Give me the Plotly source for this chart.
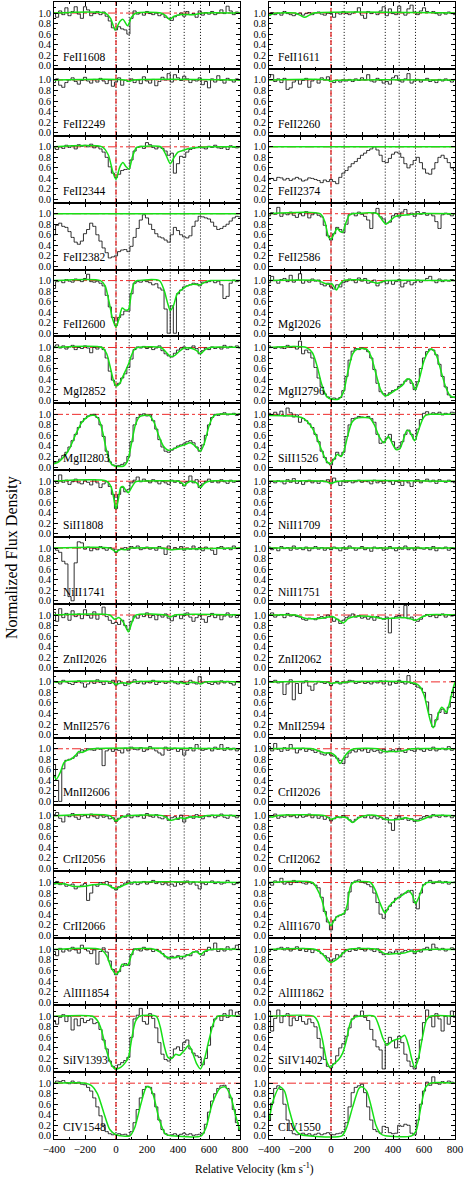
import plotly.graph_objects as go
from plotly.subplots import make_subplots

# velocity bins (km/s) shared by all spectra
VELOCITY = [-400, -380, -360, -340, -320, -300, -280, -260, -240, -220,
            -200, -180, -160, -140, -120, -100, -80, -60, -40, -20,
            0, 20, 40, 60, 80, 100, 120, 140, 160, 180,
            200, 220, 240, 260, 280, 300, 320, 340, 360, 380,
            400, 420, 440, 460, 480, 500, 520, 540, 560, 580,
            600, 620, 640, 660, 680, 700, 720, 740, 760, 780, 800]

COMPONENTS = [85, 350, 440, 545]

# spectra: normalized flux in percent, one value per velocity bin
# fits: (velocity, percent flux) nodes of the model profile
S_FEII1608 = [100, 92, 104, 97, 110, 95, 103, 112, 98, 90,
              112, 106, 95, 99, 103, 97, 102, 94, 85, 72,
              68, 74, 70, 68, 60, 90, 104, 98, 101, 96,
              103, 99, 97, 100, 95, 98, 92, 90, 86, 93,
              96, 100, 94, 103, 97, 99, 92, 104, 96, 101,
              98, 103, 97, 100, 106, 99, 113, 104, 97, 102, 100]
F_FEII1608 = [(-400, 100), (-70, 100), (-35, 90), (-5, 68), (25, 84), (45, 88), (75, 76), (100, 92),
              (130, 100), (290, 100), (320, 95), (345, 88), (375, 94), (410, 97), (500, 97), (560, 100), (800, 100)]

S_FEII1611 = [96, 101, 97, 100, 96, 103, 99, 97, 95, 98,
              100, 96, 99, 101, 97, 100, 102, 98, 96, 100,
              99, 92, 101, 98, 103, 99, 97, 100, 102, 110,
              96, 90, 103, 99, 101, 97, 104, 112, 95, 108,
              99, 97, 113, 101, 96, 108, 115, 102, 97, 104,
              110, 103, 101, 103, 99, 96, 101, 98, 102, 99, 97]
F_FEII1611 = [(-400, 95), (-370, 99), (-230, 100), (-200, 96), (-170, 92), (-140, 96), (-110, 100), (800, 100)]

S_FEII2249 = [95, 102, 90, 86, 95, 100, 104, 97, 92, 99,
              105, 98, 94, 101, 96, 103, 98, 93, 100, 88,
              96, 104, 90, 99, 97, 102, 95, 100, 93, 106,
              98, 94, 101, 89, 97, 105, 100, 112, 96, 110,
              104, 99, 107, 102, 95, 100, 98, 104, 91, 97,
              85, 102, 96, 108, 99, 94, 103, 100, 96, 102, 99]
F_FEII2249 = [(-400, 100), (60, 100), (85, 97), (110, 100), (800, 100)]

S_FEII2260 = [105, 110, 97, 102, 95, 103, 82, 85, 96, 100,
              92, 99, 103, 86, 98, 101, 94, 104, 100, 106,
              97, 95, 99, 96, 100, 98, 101, 97, 102, 99,
              104, 100, 110, 98, 96, 103, 99, 94, 97, 92,
              104, 108, 99, 96, 102, 112, 94, 98, 101, 96,
              100, 103, 97, 99, 95, 101, 98, 102, 99, 96, 101]
F_FEII2260 = [(-400, 100), (-20, 100), (0, 97), (20, 99), (800, 100)]

S_FEII2344 = [98, 95, 100, 97, 103, 99, 102, 96, 104, 101,
              103, 100, 105, 98, 101, 96, 90, 80, 62, 50,
              42, 48, 55, 57, 58, 75, 92, 99, 101, 97,
              108, 104, 99, 96, 100, 97, 92, 84, 88, 50,
              68, 82, 80, 90, 95, 97, 99, 100, 98, 96,
              101, 99, 103, 98, 97, 100, 95, 102, 99, 98, 100]
F_FEII2344 = [(-400, 100), (-90, 100), (-50, 85), (-20, 52), (0, 38), (25, 62), (45, 70), (65, 62), (85, 58),
              (105, 80), (130, 98), (150, 100), (290, 100), (320, 86), (350, 68), (375, 80), (400, 90),
              (430, 93), (470, 97), (545, 99), (600, 100), (800, 100)]

S_FEII2374 = [38, 40, 36, 42, 41, 37, 40, 36, 39, 42,
              39, 35, 37, 41, 40, 38, 36, 32, 37, 34,
              38, 34, 30, 42, 50, 55, 62, 68, 72, 78,
              84, 88, 93, 96, 100, 94, 84, 72, 70, 78,
              86, 90, 88, 80, 68, 60, 66, 74, 80, 70,
              58, 50, 48, 58, 70, 80, 84, 78, 70, 60, 55]
F_FEII2374 = [(-400, 100), (800, 100)]

S_FEII2382 = [60, 78, 82, 76, 74, 66, 55, 46, 42, 48,
              62, 70, 82, 76, 60, 48, 35, 26, 16, 18,
              20, 28, 31, 32, 28, 38, 55, 72, 88, 98,
              92, 80, 70, 62, 56, 54, 50, 46, 60, 74,
              68, 60, 56, 54, 58, 76, 86, 95, 94, 92,
              90, 84, 76, 70, 72, 76, 80, 86, 92, 95, 94]
F_FEII2382 = [(-400, 100), (800, 100)]

S_FEII2586 = [96, 102, 99, 112, 95, 100, 98, 103, 97, 93,
              100, 96, 104, 92, 98, 101, 97, 94, 78, 58,
              50, 62, 74, 70, 64, 80, 98, 101, 96, 103,
              99, 95, 88, 72, 102, 110, 94, 90, 82, 84,
              96, 100, 94, 103, 108, 98, 101, 95, 104, 99,
              102, 97, 100, 96, 85, 72, 98, 101, 99, 96, 100]
F_FEII2586 = [(-400, 100), (-70, 100), (-40, 85), (-15, 55), (0, 52), (20, 62), (40, 72), (60, 66), (75, 65),
              (95, 82), (120, 98), (140, 100), (300, 100), (330, 88), (355, 80), (380, 86), (410, 94),
              (450, 97), (500, 98), (560, 100), (800, 100)]

S_FEII2600 = [85, 98, 100, 96, 102, 99, 97, 103, 101, 98,
              104, 112, 98, 97, 99, 95, 90, 72, 50, 30,
              15, 30, 35, 42, 42, 75, 95, 98, 97, 100,
              98, 96, 92, 94, 86, 82, 46, 0, 52, 0,
              75, 82, 88, 90, 92, 95, 94, 90, 97, 96,
              98, 100, 96, 99, 92, 66, 70, 95, 101, 98, 100]
F_FEII2600 = [(-400, 100), (-100, 100), (-70, 90), (-45, 60), (-20, 25), (0, 12), (20, 28), (40, 48), (60, 44),
              (80, 45), (100, 78), (120, 97), (140, 100), (280, 100), (310, 82), (335, 55), (350, 43),
              (370, 52), (395, 75), (420, 82), (460, 90), (500, 93), (545, 92), (580, 98), (610, 100), (800, 100)]

S_MGI2026 = [96, 108, 100, 95, 102, 104, 98, 110, 97, 101,
             113, 95, 100, 97, 103, 99, 101, 93, 90, 95,
             88, 84, 92, 88, 96, 98, 103, 100, 96, 105,
             99, 104, 95, 97, 101, 90, 96, 98, 94, 100,
             93, 98, 102, 88, 95, 99, 92, 96, 101, 97,
             100, 104, 108, 100, 96, 103, 98, 101, 99, 102, 100]
F_MGI2026 = [(-400, 100), (-90, 100), (-50, 96), (-20, 93), (5, 94), (20, 88), (35, 82), (55, 92), (80, 100),
             (240, 100), (270, 97), (300, 95), (330, 98), (360, 100), (800, 100)]

S_MGI2852 = [102, 105, 99, 103, 97, 101, 104, 96, 100, 98,
             103, 99, 90, 100, 97, 101, 96, 80, 55, 38,
             28, 32, 42, 50, 62, 78, 96, 101, 99, 102,
             98, 101, 96, 99, 103, 94, 88, 84, 82, 89,
             95, 99, 101, 96, 100, 103, 98, 88, 94, 99,
             96, 101, 98, 100, 97, 104, 99, 102, 100, 103, 99]
F_MGI2852 = [(-400, 100), (-90, 100), (-60, 88), (-35, 60), (-15, 36), (0, 27), (20, 30), (40, 42), (60, 55),
             (80, 68), (100, 85), (120, 97), (140, 100), (290, 100), (320, 92), (350, 83), (375, 84),
             (410, 93), (440, 99), (490, 98), (520, 94), (545, 88), (575, 96), (610, 100), (800, 100)]

S_MGII2796 = [103, 100, 98, 101, 99, 98, 104, 100, 102, 97,
              112, 88, 95, 90, 80, 62, 42, 25, 12, 6,
              3, 4, 2, 5, 18, 45, 76, 93, 98, 96,
              99, 97, 92, 80, 58, 32, 16, 12, 9, 14,
              18, 20, 26, 30, 36, 40, 32, 20, 35, 60,
              80, 92, 97, 95, 86, 68, 45, 25, 10, 5, 6]
F_MGII2796 = [(-400, 100), (-160, 100), (-120, 90), (-90, 65), (-60, 30), (-30, 8), (0, 2), (50, 2), (80, 15),
              (110, 55), (140, 88), (170, 97), (230, 97), (260, 82), (290, 50), (320, 20), (350, 8),
              (380, 12), (420, 20), (460, 28), (490, 40), (515, 38), (545, 20), (570, 40), (600, 75),
              (630, 93), (650, 97), (680, 85), (710, 55), (740, 25), (770, 8), (800, 5)]

S_MGII2803 = [8, 10, 15, 22, 28, 38, 50, 62, 75, 86,
              92, 97, 99, 100, 94, 80, 58, 30, 10, 4,
              2, 3, 5, 8, 20, 48, 80, 94, 99, 101,
              97, 99, 88, 72, 52, 38, 30, 28, 32, 36,
              40, 42, 44, 48, 50, 46, 38, 30, 42, 60,
              80, 94, 100, 98, 101, 103, 99, 100, 102, 98, 101]
F_MGII2803 = [(-400, 6), (-370, 10), (-340, 18), (-300, 35), (-260, 62), (-220, 85), (-180, 96), (-140, 98),
              (-110, 90), (-85, 65), (-60, 30), (-35, 8), (-10, 2), (50, 2), (75, 12), (100, 45), (125, 80),
              (150, 95), (175, 98), (215, 98), (245, 85), (275, 60), (305, 40), (335, 32), (360, 33),
              (400, 38), (440, 42), (480, 46), (510, 40), (545, 30), (570, 45), (600, 78), (625, 95),
              (650, 100), (800, 100)]

S_SIII1526 = [102, 98, 104, 100, 106, 97, 112, 103, 95, 99,
              85, 92, 88, 82, 75, 62, 48, 30, 18, 8,
              4, 15, 28, 22, 28, 58, 80, 92, 93, 96,
              95, 94, 96, 92, 85, 62, 45, 48, 55, 62,
              48, 36, 38, 48, 62, 70, 62, 52, 72, 90,
              102, 105, 100, 103, 101, 104, 99, 102, 100, 104, 103]
F_SIII1526 = [(-400, 98), (-250, 97), (-180, 93), (-140, 82), (-100, 62), (-60, 32), (-30, 12), (-5, 6),
              (20, 15), (40, 24), (65, 20), (85, 32), (110, 62), (135, 85), (160, 92), (200, 94), (250, 93),
              (280, 80), (310, 58), (340, 46), (370, 58), (395, 45), (420, 33), (445, 35), (470, 55),
              (490, 70), (510, 66), (540, 50), (565, 70), (590, 90), (610, 98), (640, 100), (800, 100)]

S_SIII1808 = [100, 96, 112, 98, 102, 94, 99, 104, 97, 95,
              101, 98, 93, 103, 97, 88, 95, 99, 90, 75,
              48, 75, 88, 80, 84, 97, 102, 108, 99, 104,
              101, 97, 103, 99, 95, 100, 97, 94, 102, 98,
              101, 96, 91, 99, 110, 97, 103, 88, 95, 100,
              104, 98, 101, 97, 103, 99, 96, 102, 98, 100, 101]
F_SIII1808 = [(-400, 100), (-60, 100), (-30, 88), (-10, 60), (0, 48), (15, 65), (30, 88), (45, 90), (65, 82),
              (80, 78), (100, 88), (125, 99), (145, 100), (400, 100), (425, 97), (440, 92), (460, 97),
              (480, 100), (520, 97), (545, 88), (570, 96), (600, 100), (800, 100)]

S_NIII1709 = [96, 100, 97, 101, 99, 95, 103, 98, 105, 96,
              100, 94, 99, 102, 97, 100, 96, 101, 99, 103,
              95, 106, 99, 92, 100, 98, 101, 97, 99, 102,
              98, 101, 99, 95, 102, 97, 100, 96, 101, 99,
              94, 100, 98, 92, 101, 97, 90, 99, 103, 97,
              101, 104, 99, 102, 96, 103, 100, 98, 102, 99, 97]
F_NIII1709 = [(-400, 100), (-40, 100), (0, 96), (40, 100), (800, 100)]

S_NIII1741 = [100, 96, 92, 75, 70, 8, 0, 72, 112, 110,
              98, 102, 95, 100, 97, 103, 99, 96, 101, 98,
              92, 97, 99, 101, 96, 103, 100, 104, 97, 99,
              102, 98, 100, 96, 103, 99, 88, 104, 97, 101,
              99, 103, 96, 100, 98, 104, 97, 101, 95, 102,
              99, 96, 88, 101, 103, 98, 100, 97, 104, 99, 101]
F_NIII1741 = [(-400, 100), (-40, 100), (0, 93), (30, 98), (60, 97), (100, 100), (300, 100), (350, 97),
              (400, 98), (800, 100)]

S_NIII1751 = [102, 97, 100, 95, 103, 99, 101, 96, 104, 98,
              100, 97, 102, 95, 99, 103, 98, 101, 96, 100,
              97, 102, 99, 95, 101, 98, 104, 100, 96, 99,
              103, 97, 100, 94, 102, 99, 101, 96, 98, 103,
              99, 95, 101, 98, 104, 97, 100, 96, 102, 99,
              98, 101, 97, 103, 95, 100, 99, 102, 96, 101, 98]
F_NIII1751 = [(-400, 100), (800, 100)]

S_ZNII2026 = [105, 88, 112, 95, 103, 90, 108, 97, 102, 93,
              110, 99, 94, 106, 92, 101, 115, 97, 90, 84,
              86, 82, 90, 80, 72, 88, 98, 94, 101, 97,
              104, 95, 99, 91, 100, 96, 102, 94, 89, 97,
              101, 93, 99, 104, 96, 88, 95, 100, 92, 86,
              97, 103, 95, 100, 91, 98, 104, 96, 101, 95, 100]
F_ZNII2026 = [(-400, 100), (-40, 100), (-10, 92), (20, 95), (50, 85), (80, 68), (105, 88), (130, 100),
              (320, 100), (350, 96), (380, 100), (800, 100)]

S_ZNII2062 = [100, 104, 96, 99, 101, 95, 103, 98, 100, 97,
              96, 92, 90, 94, 93, 91, 95, 97, 94, 100,
              96, 88, 92, 84, 90, 95, 98, 102, 96, 99,
              94, 96, 92, 95, 90, 97, 94, 92, 96, 66,
              94, 97, 99, 95, 118, 93, 96, 90, 88, 92,
              98, 101, 97, 100, 95, 99, 102, 96, 100, 98, 101]
F_ZNII2062 = [(-400, 100), (-230, 100), (-180, 95), (-150, 93), (-60, 94), (-20, 96), (10, 97), (50, 90),
              (80, 85), (110, 93), (150, 97), (200, 98), (280, 96), (330, 93), (400, 94), (440, 95),
              (500, 94), (545, 90), (580, 95), (620, 100), (800, 100)]

S_MNII2576 = [101, 99, 96, 103, 100, 97, 95, 99, 102, 98,
              90, 96, 101, 97, 104, 99, 95, 101, 97, 103,
              94, 102, 98, 93, 100, 99, 104, 97, 101, 96,
              100, 98, 103, 95, 99, 101, 97, 100, 102, 98,
              96, 101, 99, 95, 103, 98, 96, 110, 99, 100,
              97, 95, 99, 96, 102, 98, 101, 97, 94, 100, 99]
F_MNII2576 = [(-400, 100), (-30, 100), (0, 95), (30, 98), (60, 98), (85, 96), (110, 100), (400, 100),
              (440, 97), (480, 99), (520, 99), (545, 96), (580, 100), (800, 100)]

S_MNII2594 = [101, 99, 103, 98, 100, 76, 96, 104, 66, 97,
              78, 98, 102, 92, 84, 96, 101, 99, 97, 100,
              93, 98, 101, 96, 100, 98, 103, 102, 97, 99,
              101, 97, 99, 96, 100, 98, 102, 96, 101, 94,
              100, 97, 103, 99, 96, 112, 97, 95, 90, 88,
              80, 62, 38, 15, 28, 42, 48, 40, 52, 72, 90]
F_MNII2594 = [(-400, 100), (-30, 100), (0, 97), (30, 99), (60, 98), (100, 100), (500, 100), (545, 97),
              (570, 92), (600, 75), (625, 45), (645, 22), (660, 13), (680, 28), (700, 45), (715, 52),
              (730, 48), (745, 42), (765, 60), (785, 85), (800, 100)]

S_MNII2606 = [70, 40, 0, 62, 78, 80, 82, 86, 92, 98,
              96, 100, 98, 97, 101, 99, 68, 96, 100, 95,
              99, 97, 92, 101, 96, 103, 99, 98, 102, 95,
              98, 104, 100, 96, 92, 88, 103, 97, 99, 101,
              95, 99, 88, 97, 102, 96, 108, 100, 97, 99,
              101, 96, 103, 99, 108, 97, 102, 98, 101, 96, 99]
F_MNII2606 = [(-400, 50), (-385, 42), (-360, 55), (-335, 74), (-315, 78), (-290, 80), (-260, 88), (-240, 95),
              (-220, 93), (-190, 97), (-150, 100), (800, 100)]

S_CRII2026 = [104, 96, 110, 99, 95, 102, 97, 108, 100, 92,
              98, 101, 95, 99, 97, 93, 96, 90, 88, 92,
              88, 86, 82, 78, 72, 84, 92, 97, 94, 99,
              96, 100, 93, 98, 95, 97, 92, 99, 94, 96,
              98, 94, 100, 96, 93, 99, 97, 95, 101, 98,
              95, 100, 97, 103, 96, 99, 101, 98, 104, 97, 100]
F_CRII2026 = [(-400, 100), (-120, 100), (-80, 96), (-40, 92), (0, 92), (30, 86), (58, 72), (85, 84),
              (115, 95), (150, 100), (300, 100), (340, 95), (400, 95), (460, 96), (520, 100), (800, 100)]

S_CRII2056 = [102, 106, 95, 88, 100, 98, 104, 97, 93, 99,
              101, 96, 103, 98, 95, 100, 97, 99, 94, 96,
              89, 95, 99, 97, 103, 96, 100, 98, 101, 95,
              104, 99, 97, 102, 96, 94, 99, 91, 96, 98,
              93, 101, 88, 96, 99, 95, 102, 97, 94, 100,
              98, 101, 96, 99, 103, 97, 95, 101, 99, 96, 100]
F_CRII2056 = [(-400, 100), (-40, 100), (0, 90), (40, 98), (80, 100), (300, 100), (330, 95), (350, 91),
              (380, 93), (420, 96), (440, 94), (470, 97), (520, 98), (545, 97), (580, 100), (800, 100)]

S_CRII2062 = [97, 100, 103, 95, 99, 97, 102, 98, 100, 96,
              101, 97, 99, 103, 96, 100, 95, 99, 93, 97,
              90, 94, 98, 96, 100, 97, 92, 88, 93, 97,
              99, 96, 101, 95, 98, 94, 97, 93, 96, 86,
              72, 95, 99, 93, 96, 91, 94, 89, 92, 95,
              98, 100, 96, 102, 99, 97, 101, 98, 100, 96, 99]
F_CRII2062 = [(-400, 100), (-380, 97), (-350, 100), (-40, 100), (0, 93), (40, 97), (100, 96), (140, 87),
              (180, 96), (220, 100), (300, 100), (350, 93), (440, 93), (480, 96), (520, 93), (560, 90),
              (600, 94), (650, 100), (800, 100)]

S_CRII2066 = [97, 102, 96, 99, 93, 95, 97, 88, 92, 95,
              98, 66, 80, 96, 93, 100, 97, 102, 95, 90,
              86, 92, 95, 99, 103, 97, 101, 96, 99, 102,
              97, 100, 104, 98, 101, 96, 99, 95, 97, 93,
              100, 96, 99, 103, 97, 101, 95, 88, 99, 96,
              100, 103, 98, 101, 97, 99, 104, 100, 96, 98, 101]
F_CRII2066 = [(-400, 98), (-330, 97), (-280, 93), (-200, 93), (-150, 96), (-60, 96), (-20, 90), (0, 88),
              (30, 92), (60, 96), (100, 100), (800, 100)]

S_ALII1670 = [98, 95, 103, 100, 108, 97, 101, 96, 104, 100,
              102, 99, 97, 101, 98, 95, 90, 72, 45, 25,
              10, 28, 35, 38, 40, 48, 82, 100, 103, 105,
              101, 99, 96, 92, 80, 62, 40, 32, 48, 55,
              62, 70, 72, 78, 80, 82, 85, 62, 50, 80,
              96, 100, 104, 98, 101, 103, 99, 102, 97, 100, 101]
F_ALII1670 = [(-400, 100), (-120, 100), (-90, 88), (-60, 68), (-35, 40), (-10, 22), (0, 18), (20, 28),
              (40, 36), (60, 38), (85, 42), (105, 58), (125, 92), (145, 100), (255, 100), (285, 86),
              (315, 62), (340, 45), (350, 42), (375, 55), (420, 68), (470, 78), (500, 85), (525, 76),
              (545, 60), (570, 74), (595, 94), (620, 100), (800, 100)]

S_ALIII1854 = [96, 88, 102, 95, 100, 97, 104, 99, 93, 108,
               101, 97, 92, 99, 72, 96, 103, 95, 78, 62,
               52, 58, 68, 73, 70, 90, 101, 99, 97, 104,
               99, 102, 96, 100, 97, 92, 86, 82, 87, 84,
               88, 82, 86, 90, 88, 95, 97, 92, 89, 96,
               104, 99, 112, 96, 101, 97, 105, 99, 102, 108, 100]
F_ALIII1854 = [(-400, 100), (-100, 100), (-60, 88), (-30, 65), (0, 53), (20, 58), (40, 72), (60, 70),
               (80, 72), (100, 90), (120, 100), (250, 100), (290, 94), (330, 85), (360, 84), (400, 86),
               (440, 87), (470, 90), (500, 95), (525, 95), (545, 90), (570, 96), (610, 100), (800, 100)]

S_ALIII1862 = [96, 100, 98, 102, 104, 99, 103, 97, 101, 105,
               98, 102, 96, 100, 94, 99, 97, 92, 88, 84,
               78, 82, 90, 86, 94, 99, 96, 101, 98, 103,
               100, 97, 102, 99, 96, 101, 94, 90, 92, 95,
               93, 97, 91, 95, 98, 96, 99, 92, 97, 95,
               101, 104, 98, 110, 103, 99, 102, 97, 100, 103, 101]
F_ALIII1862 = [(-400, 100), (-100, 100), (-50, 90), (-20, 78), (0, 75), (20, 78), (45, 83), (80, 94),
               (110, 100), (300, 100), (340, 93), (370, 91), (420, 92), (470, 93), (520, 97), (545, 95),
               (580, 99), (620, 100), (800, 100)]

S_SIIV1393 = [92, 85, 98, 103, 90, 100, 74, 95, 82, 96,
              88, 92, 95, 86, 88, 75, 55, 38, 15, 5,
              0, 8, 12, 16, 22, 60, 95, 102, 115, 90,
              85, 105, 96, 78, 50, 28, 18, 15, 22, 38,
              42, 35, 50, 55, 38, 30, 25, 22, 8, 20,
              45, 80, 95, 100, 92, 105, 98, 112, 101, 108, 104]
F_SIIV1393 = [(-400, 100), (-150, 100), (-120, 92), (-95, 75), (-70, 45), (-40, 15), (-15, 2), (0, 0),
              (30, 3), (60, 12), (80, 22), (100, 55), (125, 90), (150, 100), (260, 100), (285, 80),
              (310, 45), (335, 22), (360, 20), (385, 28), (410, 26), (440, 35), (470, 45), (495, 30),
              (520, 10), (545, 0), (570, 18), (600, 55), (630, 88), (655, 100), (800, 100)]

S_SIIV1402 = [110, 72, 96, 112, 88, 100, 105, 82, 97, 92,
              100, 90, 85, 95, 88, 80, 58, 40, 18, 5,
              2, 10, 25, 40, 48, 62, 78, 95, 102, 100,
              110, 98, 92, 75, 55, 42, 36, 0, 48, 60,
              54, 40, 62, 50, 28, 15, 5, 0, 20, 55,
              88, 112, 98, 80, 105, 95, 72, 100, 85, 110, 98]
F_SIIV1402 = [(-400, 100), (-110, 100), (-85, 90), (-55, 55), (-25, 12), (-5, 3), (20, 10), (50, 18),
              (75, 30), (100, 55), (125, 88), (150, 98), (180, 100), (280, 100), (305, 85), (335, 58),
              (360, 45), (390, 52), (420, 56), (445, 58), (475, 64), (500, 45), (520, 20), (540, 3),
              (560, 15), (590, 60), (615, 92), (640, 100), (800, 100)]

S_CIV1548 = [100, 104, 103, 105, 101, 99, 104, 100, 102, 98,
             97, 92, 85, 72, 55, 38, 20, 8, 4, 2,
             3, 4, 2, 3, 0, 8, 25, 50, 72, 88,
             94, 92, 80, 55, 30, 12, 4, 1, 2, 4,
             1, 3, 5, 2, 4, 1, 2, 3, 5, 22,
             45, 66, 80, 90, 95, 96, 90, 72, 50, 25, 10]
F_CIV1548 = [(-400, 100), (-200, 100), (-160, 96), (-120, 80), (-80, 45), (-40, 12), (0, 2), (90, 0),
             (120, 15), (160, 60), (195, 92), (215, 93), (240, 78), (280, 30), (320, 3), (360, 0), (550, 0),
             (580, 15), (620, 60), (670, 90), (705, 93), (740, 75), (770, 40), (800, 10)]

S_CIV1550 = [30, 62, 90, 95, 88, 60, 30, 10, 4, 2,
             3, 5, 2, 4, 1, 3, 5, 2, 4, 6,
             3, 2, 4, 5, 8, 25, 55, 82, 92, 95,
             98, 82, 55, 30, 12, 8, 5, 18, 16, 6,
             4, 5, 20, 18, 22, 20, 5, 2, 30, 60,
             85, 102, 96, 112, 100, 98, 103, 101, 104, 102, 100]
F_CIV1550 = [(-400, 30), (-370, 70), (-330, 93), (-300, 85), (-270, 50), (-230, 12), (-200, 3), (-150, 0),
             (70, 0), (100, 15), (140, 55), (180, 90), (200, 93), (230, 85), (260, 55), (290, 20), (320, 4),
             (350, 0), (520, 0), (550, 10), (580, 55), (610, 92), (640, 100), (800, 100)]

# panels row by row, left column then right column
PANELS = [
    ("FeII1608", S_FEII1608, F_FEII1608), ("FeII1611", S_FEII1611, F_FEII1611),
    ("FeII2249", S_FEII2249, F_FEII2249), ("FeII2260", S_FEII2260, F_FEII2260),
    ("FeII2344", S_FEII2344, F_FEII2344), ("FeII2374", S_FEII2374, F_FEII2374),
    ("FeII2382", S_FEII2382, F_FEII2382), ("FeII2586", S_FEII2586, F_FEII2586),
    ("FeII2600", S_FEII2600, F_FEII2600), ("MgI2026", S_MGI2026, F_MGI2026),
    ("MgI2852", S_MGI2852, F_MGI2852), ("MgII2796", S_MGII2796, F_MGII2796),
    ("MgII2803", S_MGII2803, F_MGII2803), ("SiII1526", S_SIII1526, F_SIII1526),
    ("SiII1808", S_SIII1808, F_SIII1808), ("NiII1709", S_NIII1709, F_NIII1709),
    ("NiII1741", S_NIII1741, F_NIII1741), ("NiII1751", S_NIII1751, F_NIII1751),
    ("ZnII2026", S_ZNII2026, F_ZNII2026), ("ZnII2062", S_ZNII2062, F_ZNII2062),
    ("MnII2576", S_MNII2576, F_MNII2576), ("MnII2594", S_MNII2594, F_MNII2594),
    ("MnII2606", S_MNII2606, F_MNII2606), ("CrII2026", S_CRII2026, F_CRII2026),
    ("CrII2056", S_CRII2056, F_CRII2056), ("CrII2062", S_CRII2062, F_CRII2062),
    ("CrII2066", S_CRII2066, F_CRII2066), ("AlII1670", S_ALII1670, F_ALII1670),
    ("AlIII1854", S_ALIII1854, F_ALIII1854), ("AlIII1862", S_ALIII1862, F_ALIII1862),
    ("SiIV1393", S_SIIV1393, F_SIIV1393), ("SiIV1402", S_SIIV1402, F_SIIV1402),
    ("CIV1548", S_CIV1548, F_CIV1548), ("CIV1550", S_CIV1550, F_CIV1550),
]

Y_TICKS = [0.0, 0.2, 0.4, 0.6, 0.8, 1.0]
Y_TICK_TEXT = ["0.0", "0.2", "0.4", "0.6", "0.8", "1.0"]
X_TICKS = [-400, -200, 0, 200, 400, 600, 800]

W, H = 474, 1182
NROWS = 17
COL_PX = {1: (54, 240), 2: (269, 455)}
TOP_PX, BOTTOM_PX = 2, 1139
ROW_PX = (BOTTOM_PX - TOP_PX) / NROWS
FONT = "Liberation Serif"
RED = "#ee2a2a"
GREEN = "#16e016"

fig = make_subplots(rows=NROWS, cols=2)

shapes = []
annotations = []
for k, (label, flux, fit) in enumerate(PANELS):
    row, col = k // 2 + 1, k % 2 + 1
    n = k + 1
    sfx = "" if n == 1 else str(n)

    fig.add_trace(go.Scatter(
        x=VELOCITY, y=[f / 100 for f in flux], mode="lines",
        line=dict(color="#1a1a1a", width=0.9, shape="hvh"),
        hoverinfo="skip", showlegend=False), row=row, col=col)
    fig.add_trace(go.Scatter(
        x=[p[0] for p in fit], y=[p[1] / 100 for p in fit], mode="lines",
        line=dict(color=GREEN, width=1.5, shape="spline", smoothing=0.7),
        hoverinfo="skip", showlegend=False), row=row, col=col)

    x0, x1 = COL_PX[col]
    top = TOP_PX + (row - 1) * ROW_PX
    fig.update_xaxes(domain=[x0 / W, x1 / W], showticklabels=(row == NROWS), row=row, col=col)
    fig.update_yaxes(domain=[1 - (top + ROW_PX) / H, 1 - top / H], row=row, col=col)

    # continuum, component markers and systemic velocity
    shapes.append(dict(type="line", xref=f"x{sfx} domain", yref=f"y{sfx}", x0=0, x1=1, y0=1, y1=1,
                       line=dict(color=RED, width=1, dash="dashdot"), layer="below"))
    for v in [0] + COMPONENTS:
        shapes.append(dict(type="line", xref=f"x{sfx}", yref=f"y{sfx} domain", x0=v, x1=v, y0=0, y1=1,
                           line=dict(color="black", width=1, dash="1px,2px"), layer="below"))
    shapes.append(dict(type="line", xref=f"x{sfx}", yref=f"y{sfx} domain", x0=0, x1=0, y0=0, y1=1,
                       line=dict(color=RED, width=1.3, dash="5px,3px"), layer="below"))

    annotations.append(dict(text=label, xref=f"x{sfx} domain", yref=f"y{sfx}", x=0.04, y=0.17,
                            xanchor="left", yanchor="middle", showarrow=False,
                            font=dict(family=FONT, size=11.5, color="black")))

annotations.append(dict(text="Normalized Flux Density", xref="paper", yref="paper",
                        x=12 / W, y=1 - 558 / H, textangle=-90, showarrow=False,
                        xanchor="center", yanchor="middle",
                        font=dict(family=FONT, size=16, color="black")))
annotations.append(dict(text="Relative Velocity (km s<sup>-1</sup>)", xref="paper", yref="paper",
                        x=254 / W, y=1 - 1168 / H, showarrow=False,
                        xanchor="center", yanchor="middle",
                        font=dict(family=FONT, size=11.5, color="black")))

fig.update_xaxes(range=[-400, 800], tickmode="array", tickvals=X_TICKS, automargin=False,
                 ticks="inside", ticklen=4, tickcolor="black",
                 minor=dict(ticks="inside", ticklen=2, dtick=100, tick0=-400, tickcolor="black"),
                 showline=True, linecolor="black", linewidth=1, mirror="ticks",
                 showgrid=False, zeroline=False,
                 tickfont=dict(family=FONT, size=11, color="black"))
fig.update_yaxes(range=[-0.06, 1.21], tickmode="array", tickvals=Y_TICKS, ticktext=Y_TICK_TEXT,
                 automargin=False,
                 ticks="inside", ticklen=4, tickcolor="black",
                 minor=dict(ticks="inside", ticklen=2, dtick=0.1, tick0=0, tickcolor="black"),
                 showline=True, linecolor="black", linewidth=1, mirror="ticks",
                 showgrid=False, zeroline=False,
                 tickfont=dict(family=FONT, size=10, color="black"))

fig.update_layout(width=W, height=H, margin=dict(l=0, r=0, t=0, b=0, autoexpand=False),
                  plot_bgcolor="white", paper_bgcolor="white",
                  shapes=shapes, annotations=annotations, showlegend=False)

# the page body carries a default 8px margin; drop it so the figure starts at the corner
fig.write_html("out.html", config={"displayModeBar": False},
               post_script="document.body.style.margin = '0px';")
